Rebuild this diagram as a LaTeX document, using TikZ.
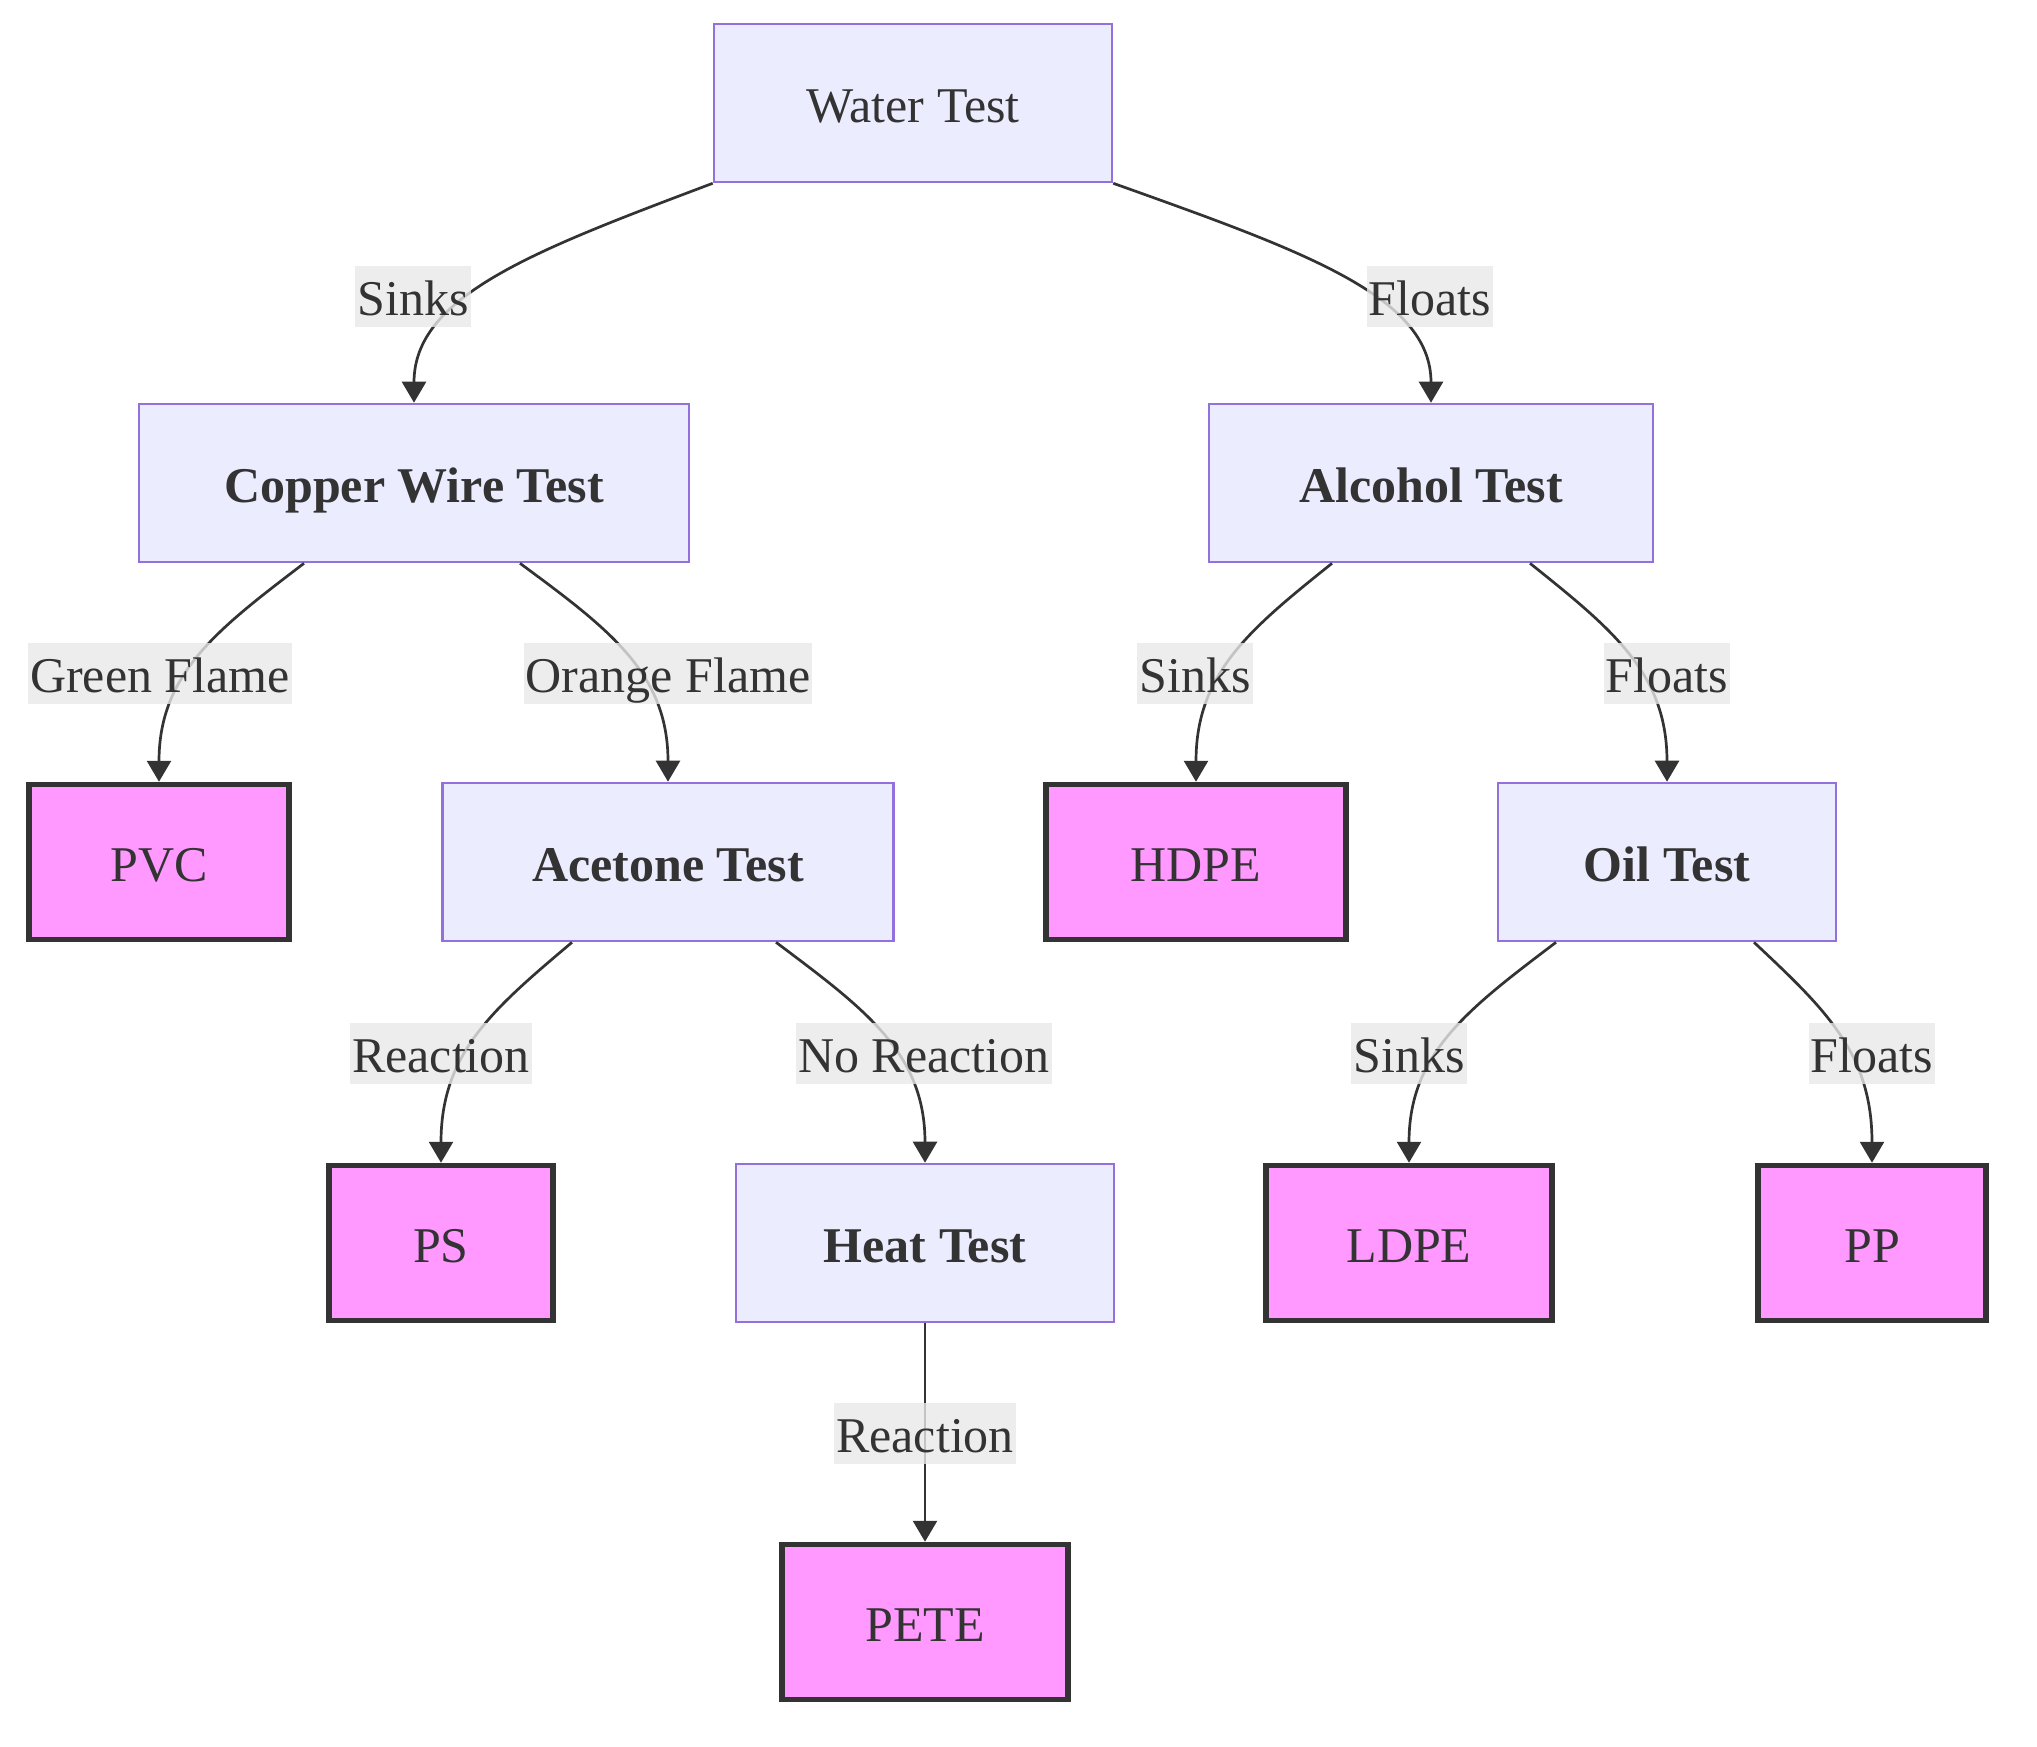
\documentclass[tikz,border=0pt]{standalone}
\usepackage{fontspec}
\setmainfont{Liberation Serif}
\usetikzlibrary{arrows.meta}
\definecolor{nodefill}{HTML}{ECECFF}
\definecolor{nodeline}{HTML}{9370DB}
\definecolor{termfill}{HTML}{FF99FF}
\definecolor{ink}{HTML}{333333}
\definecolor{lblfill}{HTML}{E8E8E8}
\begin{document}
\begin{tikzpicture}[x=1pt,y=-1pt,
  font=\fontsize{50}{60}\selectfont, text=ink,
  every node/.style={text height=44pt, text depth=6pt},
  testbox/.style={draw=nodeline, fill=nodefill, line width=2.6pt, minimum height=158pt, inner sep=0pt},
  resultbox/.style={draw=ink, fill=termfill, line width=5.5pt, minimum height=155pt, inner sep=0pt},
  edgelbl/.style={fill=lblfill, fill opacity=0.8, text opacity=1, inner xsep=2pt, inner ysep=0pt, minimum height=61pt},
  edge/.style={draw=ink, line width=2.7pt, -{Triangle[length=21pt,width=24pt]}},
]
\useasboundingbox (0,0) rectangle (2037,1746);
% nodes
\node[testbox, minimum width=398pt] (water) at (913,103) {Water Test};
\node[testbox, minimum width=550pt] (copper) at (414,483) {\bfseries Copper Wire Test};
\node[testbox, minimum width=444pt] (alcohol) at (1431,483) {\bfseries Alcohol Test};
\node[resultbox, minimum width=260pt] (pvc) at (159,862) {PVC};
\node[testbox, minimum width=451pt] (acetone) at (668,862) {\bfseries Acetone Test};
\node[resultbox, minimum width=300pt] (hdpe) at (1196,862) {HDPE};
\node[testbox, minimum width=338pt] (oil) at (1667,862) {\bfseries Oil Test};
\node[resultbox, minimum width=224pt] (ps) at (441,1243) {PS};
\node[testbox, minimum width=378pt] (heat) at (925,1243) {\bfseries Heat Test};
\node[resultbox, minimum width=286pt] (ldpe) at (1409,1243) {LDPE};
\node[resultbox, minimum width=228pt] (pp) at (1872,1243) {PP};
\node[resultbox, minimum width=286pt] (pete) at (925,1622) {PETE};
% edges
\draw[edge] (water.south west) .. controls (533,251) and (414,296) .. (copper.north);
\draw[edge] (water.south east) .. controls (1303,251) and (1431,296) .. (alcohol.north);
\draw[edge] ([xshift=-110pt]copper.south) .. controls (218,629) and (159,673) .. (pvc.north);
\draw[edge] ([xshift=106pt]copper.south) .. controls (609,629) and (668,673) .. (acetone.north);
\draw[edge] ([xshift=-99pt]alcohol.south) .. controls (1250,629) and (1196,673) .. (hdpe.north);
\draw[edge] ([xshift=99pt]alcohol.south) .. controls (1612,629) and (1667,673) .. (oil.north);
\draw[edge] ([xshift=-96pt]acetone.south) .. controls (493,1009) and (441,1053) .. (ps.north);
\draw[edge] ([xshift=108pt]acetone.south) .. controls (865,1009) and (925,1053) .. (heat.north);
\draw[edge] ([xshift=-111pt]oil.south) .. controls (1468,1009) and (1409,1053) .. (ldpe.north);
\draw[edge] ([xshift=87pt]oil.south) .. controls (1825,1009) and (1872,1053) .. (pp.north);
\draw[edge] (heat.south) -- (pete.north);
% edge labels
\node[edgelbl] (l1) at (413,296) {Sinks};
\node[edgelbl] (l2) at (1430,296) {Floats};
\node[edgelbl] (l3) at (160,673) {Green Flame};
\node[edgelbl] (l4) at (668,673) {Orange Flame};
\node[edgelbl] (l5) at (1195,673) {Sinks};
\node[edgelbl] (l6) at (1667,673) {Floats};
\node[edgelbl] (l7) at (441,1053) {Reaction};
\node[edgelbl] (l8) at (924,1053) {No Reaction};
\node[edgelbl] (l9) at (1409,1053) {Sinks};
\node[edgelbl] (l10) at (1872,1053) {Floats};
\node[edgelbl] (l11) at (925,1433) {Reaction};
\end{tikzpicture}
\end{document}
